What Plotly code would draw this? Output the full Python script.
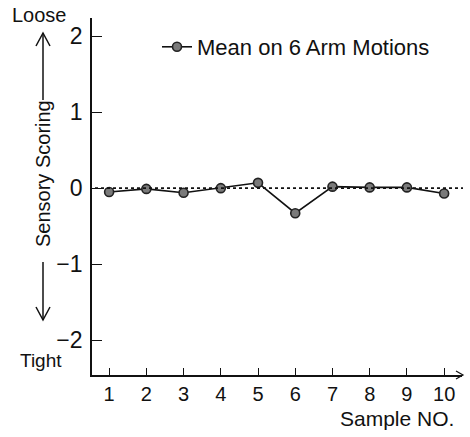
import plotly.graph_objects as go

samples = [1, 2, 3, 4, 5, 6, 7, 8, 9, 10]
mean_scores = [-0.05, -0.01, -0.06, 0.0, 0.07, -0.33, 0.02, 0.01, 0.01, -0.07]
series_name = "Mean on 6 Arm Motions"
y_ticks = [-2, -1, 0, 1, 2]
x_label = "Sample NO."
y_label = "Sensory Scoring"

FONT = "Liberation Sans, Arial, sans-serif"

fig = go.Figure()
fig.add_trace(go.Scatter(
    x=samples, y=mean_scores, mode="lines+markers", name=series_name,
    line=dict(color="#111", width=1.6),
    marker=dict(size=9, color="#7a7a7a", line=dict(color="#222", width=1.6)),
))

L, R, T, B = 92, 8, 18, 62
W, H = 470, 437
pw, ph = W - L - R, H - T - B

def px(x):
    return (x - L) / pw

def py(y):
    return (H - B - y) / ph

shapes = [
    # dotted zero line
    dict(type="line", xref="paper", yref="y", x0=px(95), x1=px(463), y0=0, y1=0,
         line=dict(color="#111", width=1.6, dash="dot")),
    # x axis arrowhead
    dict(type="path", xref="paper", yref="paper",
         path=f"M {px(456)} {py(371)} L {px(463)} {py(375)} L {px(456)} {py(379)}",
         line=dict(color="#111", width=1.2)),
    # up arrow
    dict(type="line", xref="paper", yref="paper", x0=px(43), x1=px(43), y0=py(100), y1=py(33),
         line=dict(color="#111", width=1.5)),
    dict(type="path", xref="paper", yref="paper",
         path=f"M {px(36)} {py(46)} L {px(43)} {py(33)} L {px(50)} {py(46)}",
         line=dict(color="#111", width=1.5)),
    # down arrow
    dict(type="line", xref="paper", yref="paper", x0=px(43), x1=px(43), y0=py(262), y1=py(320),
         line=dict(color="#111", width=1.5)),
    dict(type="path", xref="paper", yref="paper",
         path=f"M {px(36)} {py(307)} L {px(43)} {py(320)} L {px(50)} {py(307)}",
         line=dict(color="#111", width=1.5)),
]

annotations = [
    dict(text="Loose", xref="paper", yref="paper", x=px(39), y=py(15), showarrow=False,
         font=dict(size=20, color="#111", family=FONT), xanchor="center", yanchor="middle"),
    dict(text="Tight", xref="paper", yref="paper", x=px(41), y=py(360), showarrow=False,
         font=dict(size=19, color="#111", family=FONT), xanchor="center", yanchor="middle"),
    dict(text=y_label, xref="paper", yref="paper", x=px(43), y=py(174), showarrow=False,
         textangle=-90, font=dict(size=20, color="#111", family=FONT),
         xanchor="center", yanchor="middle"),
    dict(text=x_label, xref="paper", yref="paper", x=px(456), y=py(418), showarrow=False,
         font=dict(size=21, color="#111", family=FONT), xanchor="right", yanchor="middle"),
]

fig.update_layout(
    width=W, height=H,
    margin=dict(l=L, r=R, t=T, b=B),
    paper_bgcolor="white", plot_bgcolor="white",
    font=dict(family=FONT, color="#111"),
    shapes=shapes, annotations=annotations,
    showlegend=True,
    legend=dict(x=px(157), y=py(47), xanchor="left", yanchor="middle",
                font=dict(size=22, family=FONT, color="#111"),
                bgcolor="rgba(0,0,0,0)", itemwidth=30),
)
fig.update_xaxes(
    range=[0.54, 10.48], tickvals=samples, showgrid=False, zeroline=False,
    showline=True, linecolor="#111", linewidth=1.6,
    ticks="inside", ticklen=7, tickcolor="#111", tickwidth=1.4,
    tickfont=dict(size=20, family=FONT, color="#111"), ticklabelstandoff=0,
)
fig.update_yaxes(
    range=[-2.46, 2.24], tickvals=y_ticks, showgrid=False, zeroline=False,
    showline=True, linecolor="#111", linewidth=1.6,
    ticks="inside", ticklen=10, tickcolor="#111", tickwidth=1.4,
    tickfont=dict(size=23, family=FONT, color="#111"), ticklabelstandoff=3,
)

fig.write_html("out.html", config={"displayModeBar": False},
               post_script="document.body.style.margin='0';")
